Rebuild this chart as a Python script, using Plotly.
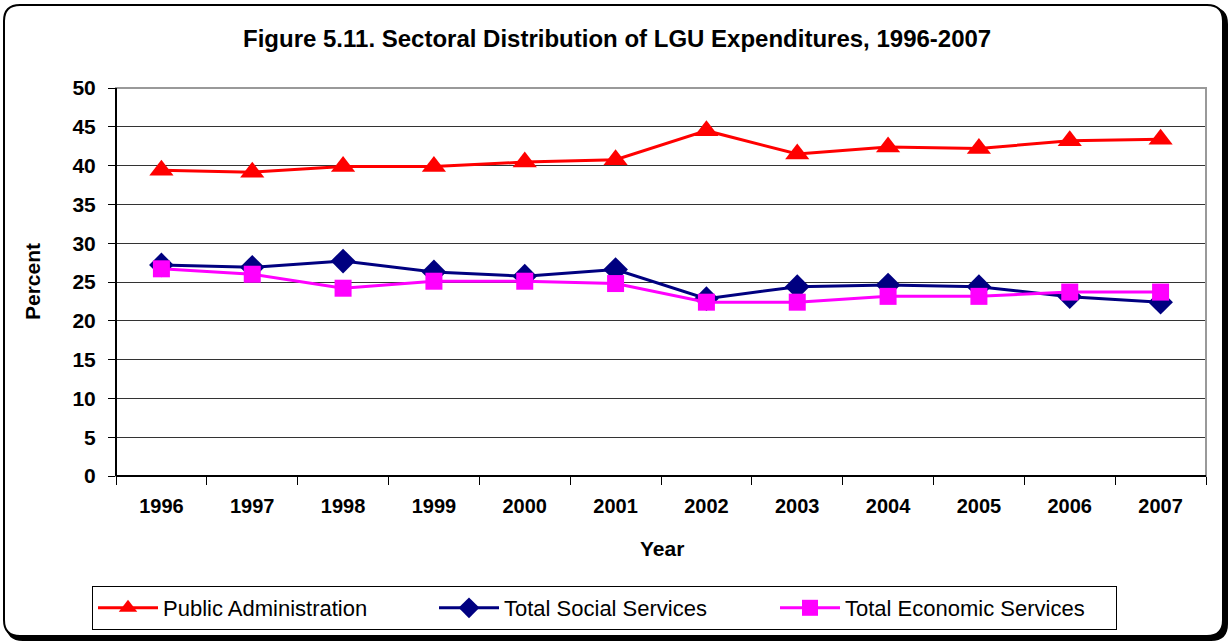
import plotly.graph_objects as go

years = ["1996", "1997", "1998", "1999", "2000", "2001", "2002", "2003", "2004", "2005", "2006", "2007"]
public_admin = [39.4, 39.15, 39.9, 39.9, 40.45, 40.75, 44.5, 41.5, 42.4, 42.2, 43.2, 43.4]
social_services = [27.2, 26.9, 27.7, 26.3, 25.75, 26.6, 22.85, 24.4, 24.6, 24.4, 23.1, 22.4]
economic_services = [26.7, 26.0, 24.2, 25.1, 25.1, 24.8, 22.4, 22.4, 23.15, 23.15, 23.7, 23.7]
y_ticks = [0, 5, 10, 15, 20, 25, 30, 35, 40, 45, 50]

FONT = "Arial, 'Liberation Sans', sans-serif"
W, H = 1229, 643
L, R, T, B = 116, 1206, 88, 476


def px(x):
    return (x - L) / (R - L)


def py(y):
    return (B - y) / (B - T)


def rrect(x0, y0, x1, y1, r):
    return (f"M {px(x0 + r)},{py(y0)} L {px(x1 - r)},{py(y0)} "
            f"Q {px(x1)},{py(y0)} {px(x1)},{py(y0 + r)} "
            f"L {px(x1)},{py(y1 - r)} Q {px(x1)},{py(y1)} {px(x1 - r)},{py(y1)} "
            f"L {px(x0 + r)},{py(y1)} Q {px(x0)},{py(y1)} {px(x0)},{py(y1 - r)} "
            f"L {px(x0)},{py(y0 + r)} Q {px(x0)},{py(y0)} {px(x0 + r)},{py(y0)} Z")


fig = go.Figure()
fig.add_trace(go.Scatter(x=years, y=public_admin, name="Public Administration", mode="lines+markers",
                         line=dict(color="#FF0000", width=3),
                         marker=dict(symbol="triangle-up", size=21, color="#FF0000")))
fig.add_trace(go.Scatter(x=years, y=social_services, name="Total Social Services", mode="lines+markers",
                         line=dict(color="#000080", width=3),
                         marker=dict(symbol="diamond", size=19, color="#000080")))
fig.add_trace(go.Scatter(x=years, y=economic_services, name="Total Economic Services", mode="lines+markers",
                         line=dict(color="#FF00FF", width=3),
                         marker=dict(symbol="square", size=17, color="#FF00FF")))

shapes = [
    dict(type="path", xref="paper", yref="paper", layer="below", path=rrect(7, 8, 1227, 640, 16),
         fillcolor="black", line=dict(color="black", width=2)),
    dict(type="path", xref="paper", yref="paper", layer="below", path=rrect(4, 5, 1223, 636, 16),
         fillcolor="white", line=dict(color="black", width=2)),
    dict(type="rect", xref="paper", yref="paper", layer="above", x0=0, x1=1, y0=0, y1=1,
         line=dict(color="#999999", width=2)),
    dict(type="line", xref="paper", yref="paper", layer="above", x0=0, x1=0, y0=0, y1=1,
         line=dict(color="black", width=2)),
    dict(type="line", xref="paper", yref="paper", layer="above", x0=0, x1=1, y0=0, y1=0,
         line=dict(color="black", width=2)),
]

fig.update_layout(
    width=W, height=H,
    margin=dict(l=L, r=W - R, t=T, b=H - B, autoexpand=False),
    paper_bgcolor="white", plot_bgcolor="rgba(0,0,0,0)",
    font=dict(family=FONT, color="black"),
    showlegend=True,
    legend=dict(orientation="h", x=px(92), y=py(586), xanchor="left", yanchor="top",
                bordercolor="black", borderwidth=1, bgcolor="white",
                font=dict(family=FONT, size=22, color="black"),
                entrywidth=266, entrywidthmode="pixels", itemwidth=60),
    shapes=shapes,
    annotations=[
        dict(text="<b>Figure 5.11. Sectoral Distribution of LGU Expenditures, 1996-2007</b>",
             xref="paper", yref="paper", x=px(617), y=py(38), xanchor="center", yanchor="middle",
             showarrow=False, font=dict(family=FONT, size=24)),
        dict(text="<b>Percent</b>", textangle=-90, xref="paper", yref="paper", x=px(32), y=py(282),
             xanchor="center", yanchor="middle", showarrow=False, font=dict(family=FONT, size=21)),
        dict(text="<b>Year</b>", xref="paper", yref="paper", x=px(662), y=py(548),
             xanchor="center", yanchor="middle", showarrow=False, font=dict(family=FONT, size=21)),
    ],
    xaxis=dict(type="category", categoryorder="array", categoryarray=years,
               tickmode="array", tickvals=years, ticktext=[f"<b>{y}</b>" for y in years],
               tickson="boundaries", ticks="outside", ticklen=8, tickcolor="black", tickwidth=1,
               showgrid=False, zeroline=False, showline=False,
               tickfont=dict(family=FONT, size=20), ticklabelstandoff=16, range=[-0.5, 11.5]),
    yaxis=dict(range=[0, 50], tickmode="array", tickvals=y_ticks,
               ticktext=[f"<b>{v}</b>" for v in y_ticks],
               ticks="outside", ticklen=7, tickcolor="black", tickwidth=1,
               showgrid=True, gridcolor="#333333", gridwidth=1, zeroline=False, showline=False,
               tickfont=dict(family=FONT, size=21), ticklabelstandoff=8),
)

fig.write_html("out.html", config={"displayModeBar": False},
               post_script="document.body.style.margin='0';document.body.style.overflow='hidden';")
